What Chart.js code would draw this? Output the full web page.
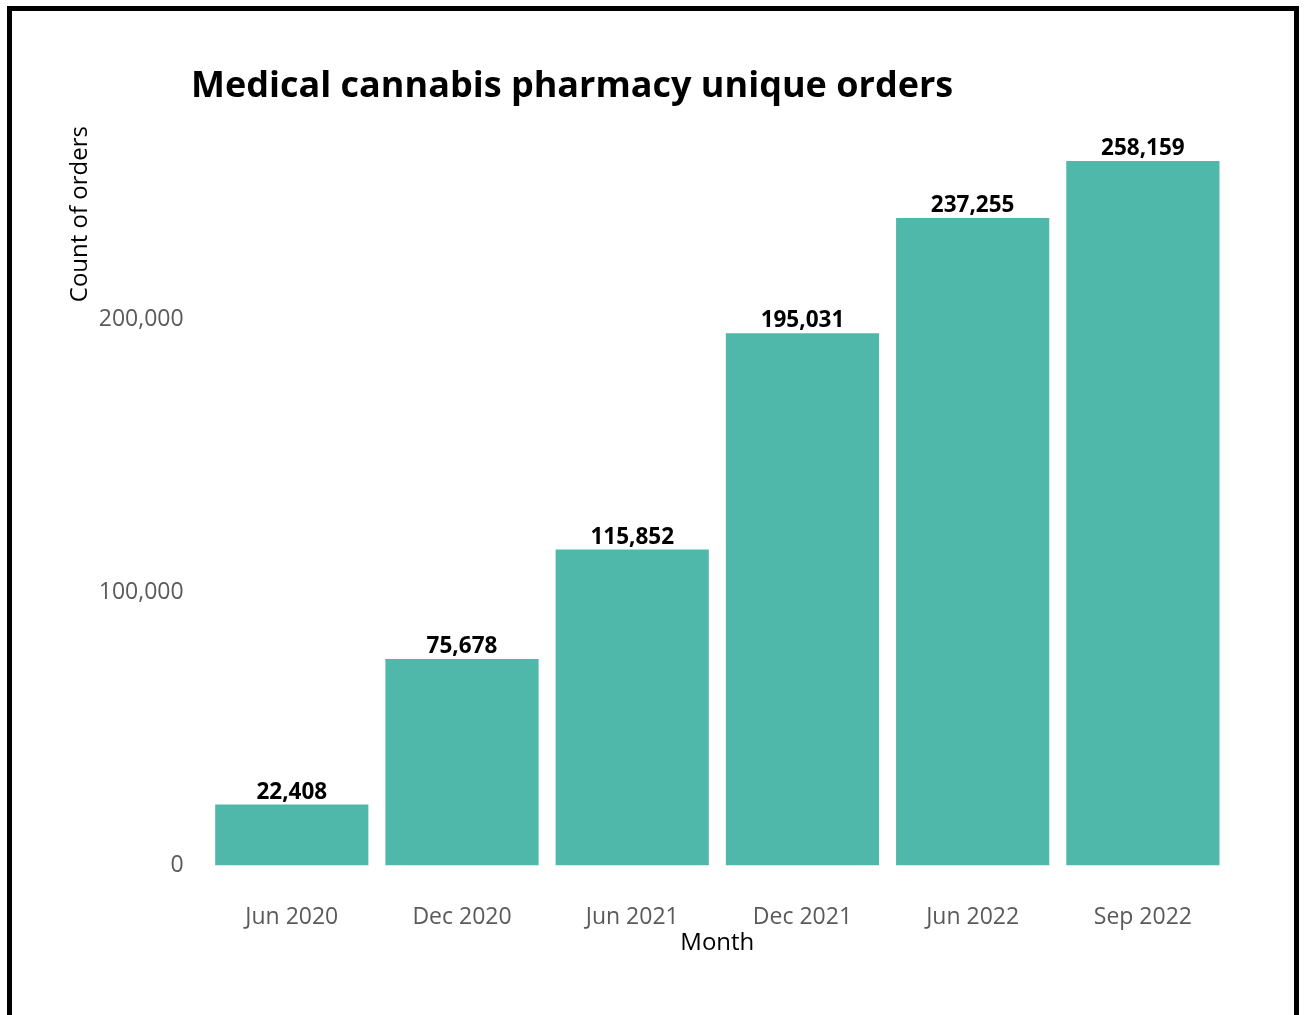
<!DOCTYPE html>
<html>
<head>
<meta charset="utf-8">
<script src="https://cdn.jsdelivr.net/npm/chart.js@4.4.0/dist/chart.umd.min.js"></script>
<style>
  html, body { margin: 0; padding: 0; background: #fff; }
  #wrap { position: relative; width: 1309px; height: 1015px; overflow: hidden; }
  #frame { position: absolute; left: 7px; top: 6px; width: 1292px; height: 1100px;
           border: 5px solid #000; box-sizing: border-box; pointer-events: none; }
  canvas { position: absolute; left: 0; top: 0; }
</style>
</head>
<body>
<div id="wrap">
  <canvas id="grafico" width="1309" height="1015"></canvas>
  <div id="frame"></div>
</div>
<script>
// datos del gráfico
const meses = ['Jun 2020', 'Dec 2020', 'Jun 2021', 'Dec 2021', 'Jun 2022', 'Sep 2022'];
const pedidos = [22408, 75678, 115852, 195031, 237255, 258159];
const ticksY = [0, 100000, 200000];

const titulo = 'Medical cannabis pharmacy unique orders';
const fuente = "'Open Sans', 'Noto Sans', sans-serif";

// título dibujado a mano (alineado más a la izquierda que el área del gráfico)
const tituloPlugin = {
    id: 'tituloPlugin',
    afterDraw(chart) {
        const ctx = chart.ctx;
        ctx.save();
        ctx.font = 'bold 36px ' + fuente;
        ctx.fillStyle = '#000';
        ctx.textBaseline = 'middle';
        ctx.textAlign = 'left';
        ctx.fillText(titulo, 191, 87);
        ctx.restore();
    }
};

// etiquetas encima de cada barra
const etiquetasPlugin = {
    id: 'etiquetasPlugin',
    afterDatasetsDraw(chart) {
        const ctx = chart.ctx;
        const meta = chart.getDatasetMeta(0);
        ctx.save();
        ctx.font = 'bold 22.5px ' + fuente;
        ctx.fillStyle = '#000';
        ctx.textAlign = 'center';
        ctx.textBaseline = 'bottom';
        meta.data.forEach((bar, i) => {
            ctx.fillText(pedidos[i].toLocaleString('en-US'), bar.x, bar.y - 1);
        });
        ctx.restore();
    }
};

new Chart(document.getElementById('grafico'), {
    type: 'bar',
    data: {
        labels: meses,
        datasets: [{
            label: 'Count of orders',
            data: pedidos,
            backgroundColor: '#50b8aa',
            borderWidth: 0,
            categoryPercentage: 1.0,
            barPercentage: 0.9
        }]
    },
    options: {
        responsive: false,
        animation: false,
        layout: {
            padding: { left: 66, right: 81, top: 126, bottom: 57 }
        },
        plugins: {
            legend: { display: false },
            tooltip: { enabled: false },
            title: { display: false }
        },
        scales: {
            x: {
                grid: { display: false, drawTicks: false },
                border: { display: false },
                ticks: {
                    color: '#5a5a5a',
                    padding: 38,
                    font: { family: fuente, size: 23 }
                },
                title: {
                    display: true,
                    text: 'Month',
                    color: '#000',
                    padding: { top: -40, bottom: 0 },
                    font: { family: fuente, size: 24 }
                }
            },
            y: {
                min: 0,
                max: 271000,
                grid: { display: false, drawTicks: false },
                border: { display: false },
                afterBuildTicks(scale) {
                    scale.ticks = ticksY.map(v => ({ value: v }));
                },
                ticks: {
                    color: '#5a5a5a',
                    padding: 23,
                    font: { family: fuente, size: 23 },
                    callback: v => v.toLocaleString('en-US')
                },
                title: {
                    display: true,
                    text: 'Count of orders',
                    align: 'end',
                    color: '#000',
                    padding: { top: 0, bottom: -19 },
                    font: { family: fuente, size: 24 }
                }
            }
        }
    },
    plugins: [tituloPlugin, etiquetasPlugin]
});
</script>
</body>
</html>
